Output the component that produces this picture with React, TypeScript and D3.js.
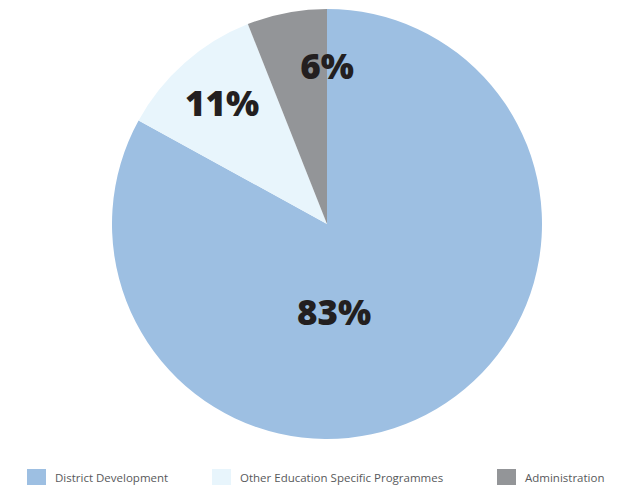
import React from "react";
import * as d3 from "d3";

const categories = ["District Development", "Other Education Specific Programmes", "Administration"];
const values = [83, 11, 6];
const labels = ["83%", "11%", "6%"];
const colors = ["#9dbfe2", "#e8f5fc", "#939598"];
// label offsets relative to pie center (styling)
const labelOffsets: [number, number][] = [[7, 87], [-105, -122], [0, -159]];
const legendX = [27, 212, 497];

export default function App() {
  const W = 621, H = 485;
  const cx = 327, cy = 224, r = 215;
  const pie = d3.pie<number>().sort(null).value((d) => d)(values);
  const arc = d3.arc<d3.PieArcDatum<number>>().innerRadius(0).outerRadius(r);
  return (
    <svg width={W} height={H} style={{ position: "absolute", left: 0, top: 0 }}>
      <g transform={`translate(${cx},${cy})`}>
        {pie.map((p, i) => (
          <path key={i} d={arc(p) || ""} fill={colors[i]} />
        ))}
        {pie.map((p, i) => (
          <text
            key={"l" + i}
            x={labelOffsets[i][0]}
            y={labelOffsets[i][1]}
            textAnchor="middle"
            dominantBaseline="central"
            fontFamily="'Open Sans', sans-serif"
            fontWeight={800}
            fontSize={35}
            fill="#231f20"
          >
            {labels[i]}
          </text>
        ))}
      </g>
      {categories.map((c, i) => (
        <g key={"g" + i} transform={`translate(${legendX[i]},0)`}>
          <rect x={0} y={469} width={19} height={20} fill={colors[i]} />
          <text x={28} y={482} fontFamily="'Open Sans', sans-serif" fontSize={11.5} fill="#58595b">
            {c}
          </text>
        </g>
      ))}
    </svg>
  );
}
